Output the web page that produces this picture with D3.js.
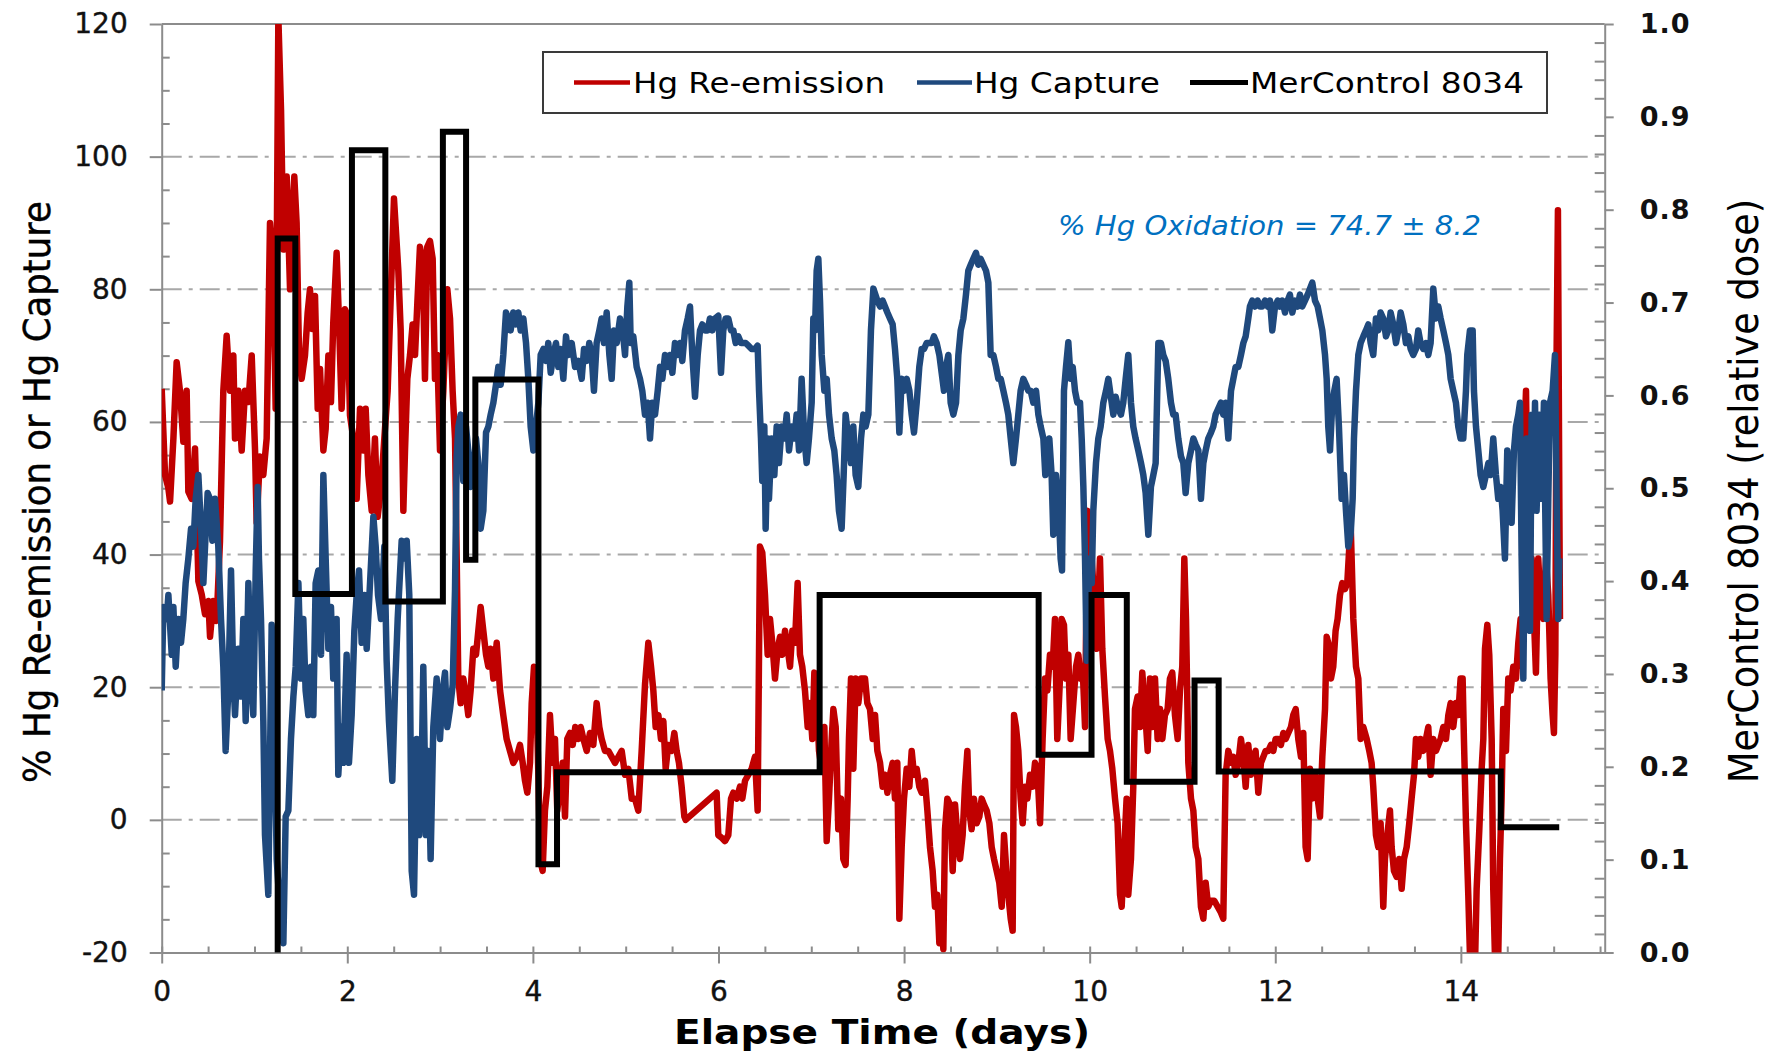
<!DOCTYPE html>
<html>
<head>
<meta charset="utf-8">
<script src="https://cdn.jsdelivr.net/npm/d3@7"></script>
<style>
html,body{margin:0;padding:0;background:#fff;}
svg{display:block;}
</style>
</head>
<body>
<svg id="chart" width="1780" height="1053"></svg>
<script>
// ---------- DATA ----------
const seriesNames = ["Hg Re-emission", "Hg Capture", "MerControl 8034"];
const xTicks = [0, 2, 4, 6, 8, 10, 12, 14];
const yLeftTicks = [-20, 0, 20, 40, 60, 80, 100, 120];
const yRightTicks = [0, 0.1, 0.2, 0.3, 0.4, 0.5, 0.6, 0.7, 0.8, 0.9, 1.0];

// [elapsed days, % Hg re-emission]
const reEmission = [
[0.000,65],[0.036,52],[0.072,50],[0.090,48],[0.126,57.5],[0.161,69],[0.197,64.7],[0.233,57],[0.269,64.7],[0.287,49.5],[0.323,48.4],[0.359,56],[0.377,46.6],[0.395,36],[0.431,34],[0.467,31],[0.503,33],[0.521,27.6],[0.556,33],[0.592,30],[0.628,42],[0.664,64.7],[0.700,73],[0.736,64.7],[0.772,70],[0.790,57.5],[0.826,64.7],[0.862,55.7],[0.898,64.7],[0.934,63],[0.970,70],[1.006,55.7],[1.023,44.8],[1.059,54.8],[1.095,52],[1.131,57.5],[1.167,90],[1.203,83],[1.228,62],[1.257,121],[1.286,107],[1.311,86],[1.347,97],[1.383,80],[1.401,89],[1.429,97],[1.454,90],[1.480,70],[1.508,66.5],[1.544,70],[1.573,76.5],[1.598,80],[1.623,74],[1.652,79],[1.681,62],[1.706,68],[1.742,55.7],[1.767,59],[1.796,70],[1.824,63],[1.849,75],[1.885,85.5],[1.911,75],[1.939,62],[1.975,77],[2.004,76],[2.029,61],[2.065,57.5],[2.101,48.4],[2.137,62],[2.173,55.7],[2.198,62],[2.227,52],[2.263,46.6],[2.298,57.5],[2.327,45.7],[2.363,50],[2.399,57.5],[2.435,64.7],
[2.503,93.7],[2.550,82.8],[2.575,74],[2.604,46.6],[2.622,55.7],[2.647,66.5],[2.676,70.1],[2.704,74.7],[2.730,70.1],[2.755,78],[2.783,86.4],[2.812,84.6],[2.837,66.5],[2.862,86.4],[2.891,87.3],[2.920,84.6],[2.945,66.5],[2.970,70.1],[2.999,55.7],[3.035,64.7],[3.078,80],[3.107,75.6],[3.135,64.7],[3.161,57.5],[3.179,39.4],[3.196,21.3],[3.222,17.6],[3.250,21.3],[3.279,18.6],[3.304,15.8],[3.329,19.5],[3.358,25.8],[3.387,24.9],[3.412,28.5],[3.437,32.1],[3.466,28.5],[3.495,24.9],[3.520,23.1],[3.545,25.8],[3.574,21.3],[3.610,26.7],[3.646,19.5],[3.681,15.8],[3.717,12.2],[3.753,10.4],[3.789,8.6],[3.825,9.5],[3.861,11.3],[3.890,8.6],[3.915,5.9],[3.940,4.1],[3.969,8.6],[3.987,17.6],[4.012,23.1],[4.034,21.3],[4.059,6.8],[4.077,-5.9],[4.105,-7.7],[4.130,1.4],[4.156,5.0],[4.184,15.8],[4.213,8.6],[4.238,12.2],[4.263,1.4],[4.292,5.0],[4.321,8.6],[4.346,0.5],[4.371,12.2],[4.400,13.1],[4.429,11.3],[4.457,14.0],[4.490,12.2],[4.515,14.0],[4.544,12.2],[4.580,10.4],[4.615,13.1],[4.651,11.3],[4.687,17.6],[4.716,14.0],[4.741,12.2],[4.777,10.4],[4.813,10.4],[4.849,9.5],[4.885,8.6],[4.921,9.5],[4.957,10.4],[4.993,6.8],[5.029,7.7],[5.065,3.2],[5.100,3.2],[5.136,1.4],
[5.172,10.4],[5.208,20.4],[5.244,26.7],[5.273,23.1],[5.298,19.5],[5.323,14.0],[5.352,15.8],[5.380,12.2],[5.406,14.9],[5.431,7.7],[5.459,11.3],[5.495,10.4],[5.524,13.1],[5.549,10.4],[5.574,8.6],[5.603,5.0],[5.632,0.5],[5.646,0],[5.980,4.1],[5.998,-2.3],[6.034,-2.7],[6.070,-3.2],[6.106,-2.3],[6.135,3.2],[6.160,4.1],[6.196,3.2],[6.232,5.0],[6.257,3.2],[6.286,5.9],[6.322,6.8],[6.357,7.7],[6.393,9.5],[6.422,1.4],[6.447,41.2],[6.472,40.3],[6.501,33.9],[6.530,24.9],[6.555,30.3],[6.580,26.7],[6.609,21.3],[6.638,25.8],[6.663,27.6],[6.688,24.9],[6.717,28.5],[6.745,25.8],[6.771,23.1],[6.796,28.5],[6.824,26.7],[6.853,35.7],[6.878,24.9],[6.903,23.1],[6.932,19.5],[6.961,14.0],[6.986,17.6],[7.011,12.2],[7.033,22.2],[7.058,18.6],[7.083,10.4],[7.112,7.7],[7.141,14.0],[7.166,-3.2],[7.191,3.2],[7.220,12.2],[7.238,16.7],[7.263,14.0],[7.291,-1.4],[7.320,3.2],[7.345,-5.9],[7.370,-6.8],[7.392,3.2],[7.406,12.2],[7.428,21.3],[7.453,7.7],[7.478,21.3],[7.507,17.6],[7.536,21.3],
[7.579,21.3],[7.604,17.6],[7.633,16.7],[7.662,12.2],[7.687,15.8],[7.712,10.4],[7.741,8.6],[7.769,5.0],[7.794,6.8],[7.820,4.1],[7.848,6.8],[7.877,8.6],[7.902,3.2],[7.927,8.6],[7.949,-14.9],[7.974,-4.1],[7.999,3.2],[8.028,7.7],[8.057,5.0],[8.082,10.4],[8.107,6.8],[8.136,7.7],[8.164,5.0],[8.190,4.1],[8.225,5.9],[8.251,1.4],[8.279,-4.1],[8.308,-7.7],[8.333,-13.1],[8.358,-11.3],[8.380,-18.6],[8.405,-14.9],[8.423,-19.5],[8.441,-1.4],[8.466,3.2],[8.495,2.3],[8.524,-7.7],[8.549,2.3],[8.574,-2.3],[8.603,-5.9],[8.631,-2.3],[8.656,5.0],[8.682,10.4],[8.703,1.4],[8.728,-1.4],[8.753,3.2],[8.782,-0.5],[8.811,0.5],[8.836,3.2],[8.861,2.3],[8.890,1.4],[8.919,-0.5],[8.944,-4.1],[8.969,-5.9],[8.998,-7.7],[9.026,-9.5],[9.052,-13.1],[9.077,-2.3],[9.098,-6.8],[9.123,-11.3],[9.149,-14.9],[9.170,-16.7],[9.185,15.8],[9.206,14.0],[9.231,10.4],[9.256,3.2],[9.278,-0.5],[9.303,5.0],[9.328,3.2],[9.357,6.8],[9.386,5.0],[9.411,8.6],[9.436,7.7],[9.465,-0.5],[9.493,12.2],[9.519,21.3],[9.544,19.5],[9.572,24.9],[9.601,23.1],[9.626,30.3],[9.651,12.2],[9.680,21.3],[9.698,30.3],[9.723,29.4],[9.745,21.3],[9.770,24.9],[9.795,12.2],[9.824,17.6],[9.853,23.1],[9.878,24.9],[9.903,21.3],[9.924,23.1],[9.950,14.0],[9.975,46.6],[9.996,43.0],[10.021,39.4],[10.047,33.9],[10.075,25.8],
[10.111,39.4],[10.136,25.8],[10.165,18.6],[10.194,12.2],[10.219,10.4],[10.244,7.7],[10.273,3.2],[10.301,-0.5],[10.327,-11.3],[10.345,-13.1],[10.373,-4.1],[10.398,3.2],[10.416,-11.3],[10.445,-5.9],[10.470,5.0],[10.488,16.7],[10.517,18.6],[10.542,14.0],[10.567,22.2],[10.596,16.7],[10.625,10.4],[10.650,21.3],[10.675,14.0],[10.704,21.3],[10.732,12.2],[10.758,16.7],[10.783,12.2],[10.811,15.8],[10.840,16.7],[10.865,21.3],[10.890,22.2],[10.919,15.8],[10.948,12.2],[10.973,19.5],[10.998,23.1],[11.020,39.4],[11.038,30.3],[11.063,8.6],[11.092,3.2],[11.117,1.4],[11.142,-4.1],[11.171,-5.9],[11.199,-13.1],[11.225,-14.9],[11.250,-9.5],[11.278,-13.1],[11.307,-12.2],[11.343,-12.2],[11.379,-13.1],[11.415,-14.0],[11.440,-14.9],[11.465,6.8],[11.494,10.4],[11.523,8.6],[11.548,9.5],[11.573,6.8],[11.602,8.6],[11.630,12.2],[11.656,9.5],[11.681,5.0],[11.709,11.3],[11.738,6.8],[11.763,9.5],[11.788,10.4],[11.817,4.1],[11.846,8.6],[11.871,9.5],[11.896,10.4],[11.925,10.4],[11.954,11.3],[11.979,10.4],[12.004,12.2],[12.033,12.2],[12.061,11.3],[12.087,13.1],[12.112,12.2],[12.140,13.1],[12.169,14.0],[12.194,15.8],[12.220,16.7],[12.248,12.2],[12.277,9.5],[12.302,13.1],[12.327,-4.1],[12.349,-5.9],[12.374,7.7],[12.399,3.2],[12.428,6.8],[12.457,3.2],[12.482,0.5],[12.507,9.5],[12.536,16.7],[12.554,27.6],[12.571,26.7],[12.600,21.3],[12.625,23.1],[12.650,28.5],[12.672,30.3],[12.697,33.9],[12.722,35.7],
[12.751,34.8],[12.776,35.7],[12.798,41.2],[12.812,44.8],[12.823,39.4],[12.841,30.3],[12.870,23.1],[12.895,21.3],[12.920,12.2],[12.949,14.0],[12.985,12.2],[13.013,10.4],[13.038,8.6],[13.056,5.0],[13.085,-2.3],[13.110,-4.1],[13.135,-0.5],[13.164,-13.1],[13.182,-5.9],[13.207,-2.3],[13.236,1.4],[13.254,-4.1],[13.279,-7.7],[13.308,-8.6],[13.336,-5.9],[13.362,-10.4],[13.387,-5.9],[13.416,-4.1],[13.444,-0.5],[13.469,3.2],[13.495,6.8],[13.516,12.2],[13.541,9.5],[13.566,12.2],[13.595,10.4],[13.624,12.2],[13.649,14.0],[13.674,6.8],[13.703,12.2],[13.732,10.4],[13.757,11.3],[13.782,12.2],[13.811,14.0],[13.840,12.2],[13.865,15.8],[13.890,17.6],[13.918,14.0],[13.947,17.6],[13.972,15.8],[13.997,21.3],[14.019,21.3],[14.033,12.2],[14.055,-0.5],[14.080,-11.3],[14.098,-20.4],[14.127,-22.2],[14.152,-22.2],[14.170,-10.4],[14.199,-1.4],[14.224,7.7],[14.242,12.2],[14.260,25.8],[14.285,29.4],[14.306,24.9],[14.332,12.2],[14.349,-10.4],[14.367,-20.4],[14.385,-22.2],[14.403,-20.4],[14.421,-5.9],[14.439,3.2],[14.457,16.7],[14.486,10.4],[14.511,21.3],[14.536,19.5],[14.565,23.1],[14.594,21.3],[14.619,26.7],[14.644,30.3],[14.666,23.1],[14.684,57.5],[14.702,64.7],[14.716,50.2],[14.737,30.3],[14.763,39.4],[14.788,30.3],[14.809,22.2],[14.834,39.4],[14.860,32.1],[14.888,30.3],[14.917,39.4],[14.942,33.9],[14.967,21.3],[14.989,15.8],[15.003,13.1],[15.018,24.9],[15.032,71.0],[15.046,91.9],[15.061,48.4],[15.068,30.3]
];

// [elapsed days, % Hg capture]
const capture = [
[0.000,19.5],[0.018,32.1],[0.054,30.3],[0.072,33.9],[0.108,24.9],[0.126,32.1],[0.151,23.1],[0.179,30.3],[0.208,26.7],[0.233,30.3],[0.258,35.7],[0.287,39.4],[0.316,43.9],[0.341,41.2],[0.366,48.4],[0.395,52.0],[0.424,43.9],[0.449,35.7],[0.467,41.2],[0.495,49.3],[0.521,48.4],[0.546,42.1],[0.574,48.4],[0.610,41.2],[0.639,30.3],[0.664,23.1],[0.689,10.4],[0.718,19.5],[0.747,37.6],[0.772,21.3],[0.790,15.8],[0.826,25.8],[0.855,18.6],[0.880,30.3],[0.905,14.9],[0.934,35.7],[0.962,21.3],[0.987,15.8],[1.013,37.6],[1.034,50.2],[1.048,39.4],[1.070,30.3],[1.095,14.9],[1.113,-2.3],[1.149,-11.3],[1.185,29.4],[1.210,17.6],[1.239,-5.9],[1.275,-14.0],[1.311,-18.6],[1.336,0.5],[1.365,1.4],[1.393,12.2],[1.419,18.6],[1.444,23.1],[1.473,35.7],[1.501,21.3],[1.526,30.3],[1.551,19.5],[1.580,15.8],[1.609,23.1],[1.634,15.8],[1.659,35.7],[1.688,37.6],[1.717,24.9],[1.742,52.0],[1.767,39.4],[1.796,25.8],[1.824,32.1],[1.849,21.3],[1.885,30.3],[1.903,6.8],[1.932,14.0],[1.957,8.6],[1.993,24.9],[2.018,8.6],[2.047,15.8],[2.076,28.5],[2.101,33.9],[2.126,37.6],[2.155,26.7],[2.184,33.9],[2.209,25.8],[2.245,35.7],[2.281,45.7],[2.306,41.2],[2.331,33.9],[2.363,30.3],[2.399,41.2],[2.424,24.0],[2.449,14.9],[2.485,5.9],[2.514,19.5],[2.543,30.3],[2.586,42.1],
[2.622,39.4],[2.640,42.1],[2.668,33.9],[2.694,-7.7],[2.719,-11.3],[2.748,12.2],[2.776,-2.3],[2.801,6.8],[2.819,23.1],[2.848,-2.3],[2.873,10.4],[2.898,-5.9],[2.927,14.0],[2.963,21.3],[2.999,12.2],[3.028,19.5],[3.053,22.2],[3.078,14.0],[3.107,16.7],[3.136,20.4],[3.161,34.8],[3.179,54.8],[3.197,59.3],[3.222,61.1],[3.250,51.1],[3.279,59.3],[3.304,55.7],[3.329,50.2],[3.358,52.0],[3.387,57.5],[3.412,53.8],[3.437,43.9],[3.466,46.6],[3.495,58.4],[3.520,59.3],[3.545,61.1],[3.574,62.9],[3.602,65.6],[3.628,68.3],[3.653,65.6],[3.681,70.1],[3.710,76.5],[3.735,75.6],[3.760,73.8],[3.789,76.5],[3.818,74.7],[3.843,76.5],[3.868,73.8],[3.897,75.6],[3.926,71.9],[3.951,66.5],[3.976,59.3],[4.005,55.7],[4.033,59.3],[4.059,62.9],[4.084,70.1],[4.113,71.0],[4.141,69.2],[4.166,71.9],[4.192,67.4],[4.220,70.1],[4.249,71.9],[4.274,68.3],[4.299,71.0],[4.328,66.5],[4.357,72.9],[4.382,70.1],[4.418,71.9],[4.454,68.3],[4.490,69.2],[4.526,66.5],[4.551,71.0],[4.580,69.2],[4.608,71.9],[4.633,70.1],[4.658,64.7],[4.687,71.9],[4.716,73.8],[4.741,75.6],[4.766,71.9],[4.795,76.5],[4.824,70.1],[4.849,66.5],[4.874,73.8],[4.903,71.9],[4.939,75.6],[4.967,73.8],[4.993,70.1],[5.018,77.4],[5.039,81.0],[5.054,71.9],[5.082,72.9],[5.118,68.3],
[5.154,66.5],[5.179,64.7],[5.208,61.1],[5.237,62.9],[5.262,57.5],[5.287,62.9],[5.316,61.1],[5.345,64.7],[5.370,68.3],[5.395,66.5],[5.424,70.1],[5.452,68.3],[5.477,70.1],[5.503,67.4],[5.531,71.9],[5.560,70.1],[5.585,71.9],[5.610,69.2],[5.639,73.8],[5.668,75.6],[5.693,77.4],[5.718,70.1],[5.747,63.8],[5.776,70.1],[5.801,73.8],[5.826,74.7],[5.855,73.8],[5.883,73.8],[5.908,75.6],[5.934,73.8],[5.962,75.6],[5.998,76.0],[6.027,67.4],[6.052,73.8],[6.077,75.6],[6.106,75.6],[6.135,73.8],[6.160,73.8],[6.185,71.9],[6.214,72.9],[6.243,71.9],[6.268,71.9],[6.293,71.9],[6.322,71.5],[6.357,71.0],[6.393,71.0],[6.422,71.5],[6.437,64.7],[6.458,57.5],[6.472,51.1],[6.494,59.3],[6.508,43.9],[6.530,57.5],[6.544,48.4],[6.573,57.5],[6.602,52.0],[6.627,59.3],[6.652,53.8],[6.681,59.3],[6.710,57.5],[6.735,61.1],[6.760,55.7],[6.789,59.3],[6.817,57.5],[6.842,61.1],[6.868,55.7],[6.896,66.5],[6.925,57.5],[6.950,53.8],[6.975,57.5],[7.004,62.9],[7.022,75.6],[7.040,73.8],[7.058,82.8],[7.076,84.6],[7.094,78.3],[7.112,70.1],[7.141,64.7],[7.166,66.5],[7.191,61.1],[7.220,57.5],[7.248,55.7],[7.273,52.0],[7.298,46.6],[7.327,43.9],[7.349,52.0],[7.370,61.1],[7.399,57.5],[7.428,53.8],[7.453,59.3],[7.478,52.0],[7.507,50.2],[7.536,57.5],[7.561,61.1],[7.586,59.3],[7.615,61.1],[7.643,73.8],[7.669,80.1],
[7.712,78.3],[7.741,77.4],[7.769,78.3],[7.794,77.4],[7.820,76.5],[7.848,75.6],[7.877,74.7],[7.902,71.0],[7.927,66.5],[7.949,58.4],[7.974,66.5],[7.999,64.7],[8.028,66.5],[8.057,64.7],[8.082,61.1],[8.107,58.4],[8.136,62.9],[8.164,68.3],[8.190,71.0],[8.215,71.0],[8.243,71.9],[8.272,71.9],[8.297,71.9],[8.322,72.9],[8.351,71.9],[8.380,70.1],[8.405,67.4],[8.430,64.7],[8.452,68.3],[8.477,70.1],[8.502,62.9],[8.531,61.1],[8.560,62.9],[8.585,70.1],[8.610,73.8],[8.639,75.6],[8.667,79.2],[8.692,82.8],[8.718,83.7],[8.746,84.6],[8.775,85.5],[8.800,83.7],[8.825,84.6],[8.854,83.7],[8.883,82.8],[8.908,81.0],[8.933,70.1],[8.962,70.1],[8.991,68.3],[9.016,66.5],[9.041,66.5],[9.070,64.7],[9.098,62.9],[9.123,61.1],[9.149,57.5],[9.177,53.8],[9.206,57.5],[9.231,61.1],[9.256,64.7],[9.285,66.5],[9.314,65.6],[9.339,64.7],[9.364,64.7],[9.393,62.9],[9.422,64.7],[9.447,61.1],[9.472,59.3],[9.501,57.5],[9.522,52.0],[9.544,55.7],[9.565,57.5],[9.590,52.0],[9.608,43.0],[9.637,52.0],[9.662,48.4],[9.687,39.4],[9.702,37.6],[9.723,64.7],[9.745,68.3],[9.770,72.0],[9.795,66.5],[9.817,68.3],[9.842,64.7],[9.867,62.9],[9.896,62.9],[9.914,57.5],[9.932,50.2],[9.950,39.4],[9.968,24.0],[9.986,33.9],[10.004,39.4],[10.022,35.7],[10.039,46.6],[10.068,53.8],[10.093,57.5],[10.118,59.3],[10.147,62.9],[10.176,64.7],[10.201,66.5],
[10.255,61.1],[10.280,63.8],[10.309,62.0],[10.337,61.1],[10.362,62.9],[10.388,66.5],[10.416,70.1],[10.445,62.9],[10.470,59.3],[10.495,57.5],[10.524,55.7],[10.553,53.8],[10.578,52.0],[10.603,49.3],[10.632,43.0],[10.660,50.2],[10.686,52.0],[10.711,53.8],[10.740,71.9],[10.768,71.9],[10.793,70.1],[10.819,69.2],[10.847,66.5],[10.876,62.9],[10.901,61.1],[10.926,61.1],[10.955,57.5],[10.984,54.8],[11.009,53.8],[11.034,49.3],[11.063,53.8],[11.092,55.7],[11.117,57.5],[11.142,56.6],[11.171,55.7],[11.199,48.4],[11.225,53.8],[11.250,55.7],[11.278,57.5],[11.307,58.4],[11.332,59.3],[11.357,61.1],[11.386,62.0],[11.415,62.9],[11.440,61.1],[11.465,62.9],[11.494,57.5],[11.523,64.7],[11.548,66.5],[11.573,68.3],[11.602,68.3],[11.630,70.1],[11.656,71.9],[11.681,72.9],[11.709,75.6],[11.727,77.4],[11.752,78.3],[11.781,77.4],[11.810,78.3],[11.835,77.4],[11.860,77.4],[11.889,78.3],[11.918,77.4],[11.943,78.3],[11.968,73.8],[11.997,77.4],[12.026,78.3],[12.051,77.4],[12.076,78.3],[12.105,76.5],[12.133,78.3],[12.158,79.2],[12.184,76.5],[12.212,78.3],[12.241,77.4],[12.266,79.2],[12.291,77.4],[12.320,78.3],[12.349,79.2],[12.374,80.1],[12.399,81.0],[12.428,78.3],[12.457,77.4],[12.482,75.6],[12.507,73.8],[12.536,70.1],[12.554,66.5],[12.571,59.3],[12.590,55.7],[12.615,62.9],[12.636,64.7],[12.661,66.5],[12.686,59.3],[12.715,48.4],
[12.740,52.0],[12.762,46.6],[12.787,41.2],[12.812,43.0],[12.834,48.4],[12.848,57.5],[12.870,64.7],[12.895,70.1],[12.920,71.9],[12.949,72.9],[12.977,73.8],[13.003,74.7],[13.028,71.9],[13.056,70.1],[13.085,75.6],[13.110,73.8],[13.135,76.5],[13.164,75.6],[13.193,72.9],[13.218,73.8],[13.243,76.5],[13.272,74.7],[13.301,71.9],[13.326,73.8],[13.351,76.5],[13.380,74.7],[13.408,71.9],[13.434,72.9],[13.459,71.0],[13.487,70.1],[13.516,71.0],[13.541,73.8],[13.566,71.9],[13.595,71.0],[13.624,71.9],[13.649,70.1],[13.674,71.9],[13.703,80.1],[13.732,75.6],[13.757,77.4],[13.782,75.6],[13.811,73.8],[13.840,71.9],[13.865,70.1],[13.890,66.5],[13.918,64.7],[13.947,62.9],[13.972,59.3],[13.997,57.5],[14.026,57.5],[14.055,64.7],[14.069,70.1],[14.098,73.8],[14.127,73.8],[14.141,64.7],[14.163,59.3],[14.188,55.7],[14.213,52.0],[14.242,50.2],[14.270,52.0],[14.296,53.8],[14.321,52.0],[14.349,57.5],[14.378,52.0],[14.403,48.4],[14.429,50.2],[14.450,46.6],[14.475,39.4],[14.500,55.7],[14.522,52.0],[14.547,44.8],[14.572,55.7],[14.594,59.3],[14.619,61.1],[14.637,62.9],[14.655,39.4],[14.673,21.3],[14.691,43.9],[14.709,57.5],[14.727,50.2],[14.745,28.5],[14.763,61.1],[14.781,46.6],[14.799,62.9],[14.816,46.6],[14.845,61.1],[14.870,48.4],[14.895,62.9],[14.924,30.3],[14.942,48.4],[14.960,62.9],[14.989,64.7],[15.014,70.1],[15.032,48.4],[15.050,30.3],[15.061,39.4]
];

// MerControl 8034 relative dose: step changes [day, dose]
const doseSteps = [
[1.25,0],[1.25,0.769],[1.44,0.386],[2.05,0.864],[2.41,0.378],[3.03,0.884],[3.28,0.423],[3.38,0.617],[4.06,0.095],[4.26,0.194],[7.09,0.385],[9.45,0.213],[10.02,0.385],[10.40,0.184],[11.13,0.293],[11.39,0.195],[14.43,0.135],[15.06,0.135]
];

const annotation = "% Hg Oxidation = 74.7 \u00B1 8.2";

// ---------- LAYOUT ----------
const svg = d3.select("#chart");
const L = 161.7, R = 1604.7, T = 24, B = 952.5;
const x = d3.scaleLinear().domain([0, 15.55]).range([L, R]);
const y = d3.scaleLinear().domain([-20, 120]).range([B, T]);
const y2 = d3.scaleLinear().domain([0, 1]).range([B, T]);

const axisColor = "#8c8c8c";
const gridColor = "#a8a8a8";
const FONT = "'DejaVu Sans', Verdana, sans-serif";

// gridlines (dash-dot)
svg.append("g").selectAll("line")
  .data(yLeftTicks.filter(v => v > -20 && v < 120))
  .join("line")
  .attr("x1", L).attr("x2", R)
  .attr("y1", d => y(d)).attr("y2", d => y(d))
  .attr("stroke", gridColor).attr("stroke-width", 2)
  .attr("stroke-dasharray", "20,7,4,7");

// top solid border
svg.append("line").attr("x1", L).attr("x2", R).attr("y1", y(120)).attr("y2", y(120))
  .attr("stroke", axisColor).attr("stroke-width", 2);

function styleAxis(g) {
  g.selectAll(".domain").attr("stroke", axisColor).attr("stroke-width", 2);
  g.selectAll(".tick line").attr("stroke", axisColor).attr("stroke-width", 2);
  g.selectAll("text").attr("fill", "#111").style("font-family", FONT);
}

// minor ticks
svg.append("g").attr("transform", `translate(0,${B})`)
  .call(d3.axisBottom(x).tickValues(d3.range(0.5, 15.51, 0.5).filter(v => v % 2 !== 0)).tickSize(-6).tickSizeOuter(0).tickFormat(""))
  .call(styleAxis).call(g => g.select(".domain").remove());
svg.append("g").attr("transform", `translate(${L},0)`)
  .call(d3.axisLeft(y).tickValues(d3.range(-15, 120, 5).filter(v => v % 20 !== 0)).tickSize(-8).tickSizeOuter(0).tickFormat(""))
  .call(styleAxis).call(g => g.select(".domain").remove());
svg.append("g").attr("transform", `translate(${R},0)`)
  .call(d3.axisRight(y2).tickValues(d3.range(1, 50).map(i => i / 50).filter(v => Math.round(v * 50) % 5 !== 0)).tickSize(-10).tickSizeOuter(0).tickFormat(""))
  .call(styleAxis).call(g => g.select(".domain").remove());

// bottom axis
const gx = svg.append("g").attr("transform", `translate(0,${B})`)
  .call(d3.axisBottom(x).tickValues(xTicks).tickSize(11).tickSizeOuter(0).tickPadding(18).tickFormat(d => String(d)))
  .call(styleAxis);
gx.selectAll(".tick line").attr("y1", -6);
gx.selectAll("text").style("font-size", "28px").style("stroke", "#111").style("stroke-width", "0.4px");

// left axis
const gy = svg.append("g").attr("transform", `translate(${L},0)`)
  .call(d3.axisLeft(y).tickValues(yLeftTicks).tickSize(12).tickSizeOuter(0).tickPadding(22).tickFormat(d => String(d)))
  .call(styleAxis);
gy.selectAll("text").style("font-size", "28px").style("stroke", "#111").style("stroke-width", "0.4px");

// right axis
const gy2 = svg.append("g").attr("transform", `translate(${R},0)`)
  .call(d3.axisRight(y2).tickValues(yRightTicks).tickSize(9).tickSizeOuter(0).tickPadding(26).tickFormat(d3.format(".1f")))
  .call(styleAxis);
gy2.selectAll("text").style("font-size", "27px").style("font-weight", "bold").style("letter-spacing", "1px");

// clip
svg.append("clipPath").attr("id", "plotclip").append("rect")
  .attr("x", L).attr("y", T).attr("width", R - L).attr("height", B - T);

const line = d3.line().x(d => x(d[0])).y(d => y(d[1]));
const plot = svg.append("g").attr("clip-path", "url(#plotclip)");
plot.append("path").datum(reEmission).attr("d", line)
  .attr("fill", "none").attr("stroke", "#C00000").style("stroke-width", "6.5px").attr("stroke-linejoin", "round");
plot.append("path").datum(capture).attr("d", line)
  .attr("fill", "none").attr("stroke", "#1F497D").style("stroke-width", "6.5px").attr("stroke-linejoin", "round");
const doseLine = d3.line().x(d => x(d[0])).y(d => y2(d[1])).curve(d3.curveStepAfter);
svg.append("path").datum(doseSteps).attr("d", doseLine)
  .attr("fill", "none").attr("stroke", "#000").style("stroke-width", "6px").attr("stroke-linejoin", "miter");

// annotation
svg.append("text").attr("x", 1058).attr("y", 235)
  .attr("textLength", 423).attr("lengthAdjust", "spacingAndGlyphs")
  .style("font-family", FONT).style("font-size", "27px").style("font-style", "italic")
  .attr("fill", "#0070C0").text(annotation);

// legend
const legend = svg.append("g");
legend.append("rect").attr("x", 543).attr("y", 52).attr("width", 1004).attr("height", 61)
  .attr("fill", "#fff").attr("stroke", "#3a3a3a").attr("stroke-width", 2);
const legItems = [
  {name: seriesNames[0], color: "#C00000", w: 4.5, lx: 574, l2: 630, tx: 633, tl: 252},
  {name: seriesNames[1], color: "#1F497D", w: 4.5, lx: 917, l2: 972, tx: 974, tl: 186},
  {name: seriesNames[2], color: "#000", w: 5, lx: 1190, l2: 1248, tx: 1250, tl: 274}
];
legItems.forEach(it => {
  legend.append("line").attr("x1", it.lx).attr("x2", it.l2).attr("y1", 82.5).attr("y2", 82.5)
    .attr("stroke", it.color).attr("stroke-width", it.w);
  legend.append("text").attr("x", it.tx).attr("y", 93)
    .attr("textLength", it.tl).attr("lengthAdjust", "spacingAndGlyphs")
    .style("font-family", FONT).style("font-size", "28px").attr("fill", "#000").text(it.name);
});

// axis titles
svg.append("text").attr("transform", "translate(882,1044)")
  .attr("text-anchor", "middle").attr("textLength", 416).attr("lengthAdjust", "spacingAndGlyphs")
  .style("font-family", FONT).style("font-size", "34px").style("font-weight", "bold")
  .text("Elapse Time (days)");
svg.append("text").attr("transform", "translate(50,492) rotate(-90)")
  .attr("text-anchor", "middle").attr("textLength", 582).attr("lengthAdjust", "spacingAndGlyphs")
  .style("font-family", FONT).style("font-size", "38px").style("stroke", "#000").style("stroke-width", "0.4px")
  .text("% Hg Re-emission or Hg Capture");
svg.append("text").attr("transform", "translate(1758,491) rotate(-90)")
  .attr("text-anchor", "middle").attr("textLength", 584).attr("lengthAdjust", "spacingAndGlyphs")
  .style("font-family", FONT).style("font-size", "40px")
  .text("MerControl 8034 (relative dose)");
</script>
</body>
</html>
